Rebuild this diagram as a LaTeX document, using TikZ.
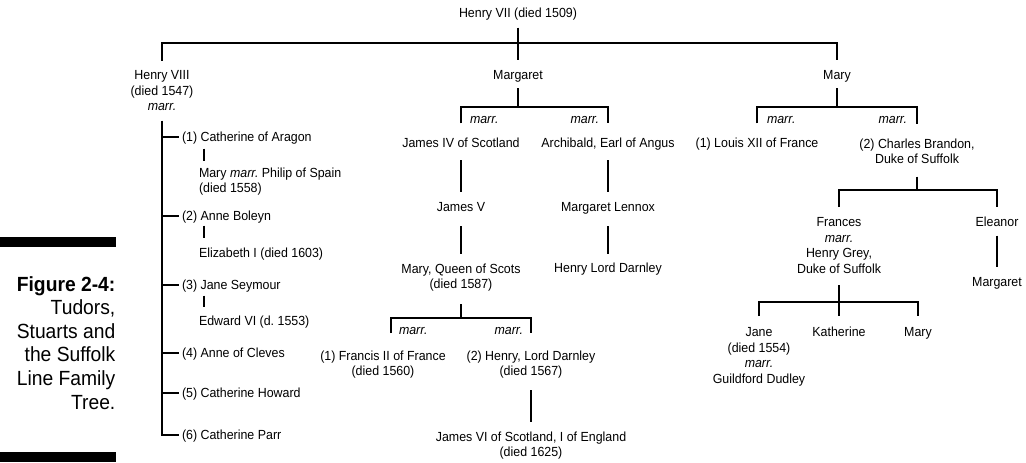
\documentclass[tikz,border=0pt]{standalone}
\usepackage{fontspec}
\setmainfont{Liberation Sans}
\newfontfamily\narrowfont{Liberation Sans}[FakeStretch=0.94]
\usetikzlibrary{calc}
\newcommand\tfs{\narrowfont\fontsize{13.2}{15.5}\selectfont}
\newcommand\capfs{\narrowfont\fontsize{20.5}{23.6}\selectfont}
\begin{document}
\begin{tikzpicture}[x=1pt,y=-1pt,line width=1.3pt,
  t/.style={inner sep=0pt,outer sep=0pt,font=\tfs,text height=9.4pt,text depth=0pt},
  tm/.style={inner sep=0pt,outer sep=0pt,font=\tfs,align=center,anchor=north},
  mr/.style={inner sep=0pt,outer sep=0pt,font=\tfs\itshape,anchor=base},
  capbar/.style={fill=black}]
\useasboundingbox (0,0) rectangle (1026,463);

% caption
\fill[capbar] (0,237) rectangle (116,247);
\fill[capbar] (0,452) rectangle (116,462);
\node[inner sep=0pt,font=\capfs,align=right,anchor=north east] (cap) at (116,275.5)
  {\textbf{Figure 2-4:}\\Tudors,\\Stuarts and\\the Suffolk\\Line Family\\Tree.};

% top generation
\node[t] (h7) at (518,13) {Henry VII (died 1509)};
\node[tm] (h8) at (162,70.5) {Henry VIII\\(died 1547)\\\textit{marr.}};
\node[t] (marg) at (518,75) {Margaret};
\node[t] (mary) at (837,75) {Mary};
\coordinate (b0) at (518,43);
\draw ($(h7.south)+(0,10)$) -- ($(marg.north)+(0,-10)$);
\draw ($(h8.north)+(0,-10)$) |- (b0) -| ($(mary.north)+(0,-10)$);

% Henry VIII wives
\node[t,anchor=west] (c1) at (182,137) {(1) Catherine of Aragon};
\node[t,anchor=west] (c2) at (182,216) {(2) Anne Boleyn};
\node[t,anchor=west] (c3) at (182,285) {(3) Jane Seymour};
\node[t,anchor=west] (c4) at (182,353) {(4) Anne of Cleves};
\node[t,anchor=west] (c5) at (182,393) {(5) Catherine Howard};
\node[t,anchor=west] (c6) at (182,435) {(6) Catherine Parr};
\node[tm,anchor=north west,align=left] (k1) at (199,167.5) {Mary \textit{marr.}\ Philip of Spain\\(died 1558)};
\node[t,anchor=west] (k2) at (199,253) {Elizabeth I (died 1603)};
\node[t,anchor=west] (k3) at (199,321) {Edward VI (d.\ 1553)};
\draw ($(h8.south)+(0,10)$) |- ($(c6.west)+(-3,0)$);
\foreach \w in {c1,c2,c3,c4,c5} \draw (h8.south |- \w.west) -- ($(\w.west)+(-3,0)$);
\draw ($(c1.south -| k1.north west)+(5,7)$) -- ($(k1.north west)+(5,-7)$);
\draw ($(c2.south -| k2.north west)+(5,5)$) -- ($(k2.north west)+(5,-10)$);
\draw ($(c3.south -| k3.north west)+(5,6)$) -- ($(k3.north west)+(5,-9)$);

% Margaret branch
\node[t] (j4) at (461,143) {James IV of Scotland};
\node[t] (arch) at (608,143) {Archibald, Earl of Angus};
\coordinate (b1) at (518,107);
\draw ($(marg.south)+(0,8.5)$) -- (b1);
\draw ($(j4.north)+(0,-15)$) |- (b1) -| ($(arch.north)+(0,-15)$);
\node[mr,anchor=base west] (m1) at (470,123) {marr.};
\node[mr,anchor=base east] (m2) at (599,123) {marr.};
\node[t] (j5) at (461,207) {James V};
\node[tm] (mqs) at (461,263.5) {Mary, Queen of Scots\\(died 1587)};
\draw ($(j4.south)+(0,12.5)$) -- ($(j5.north)+(0,-10.5)$);
\draw ($(j5.south)+(0,14.5)$) -- ($(mqs.north)+(0,-9.5)$);
\node[t] (ml) at (608,207) {Margaret Lennox};
\node[t] (hld) at (608,268) {Henry Lord Darnley};
\draw ($(arch.south)+(0,12.5)$) -- ($(ml.north)+(0,-10.5)$);
\draw ($(ml.south)+(0,14.5)$) -- ($(hld.north)+(0,-9.5)$);
\node[tm] (fr) at (383,350.5) {(1) Francis II of France\\(died 1560)};
\node[tm] (hd) at (531,350.5) {(2) Henry, Lord Darnley\\(died 1567)};
\coordinate (b2) at (461,318);
\coordinate (fl) at (391,333);
\coordinate (fr2) at (531,333);
\draw ($(mqs.south)+(0,13)$) -- (b2);
\draw (fl) |- (b2) -| (fr2);
\node[mr,anchor=base west] (m3) at (399,334) {marr.};
\node[mr,anchor=base east] (m4) at (523,334) {marr.};
\node[tm] (j6) at (531,431.5) {James VI of Scotland, I of England\\(died 1625)};
\draw ($(hd.south)+(0,12)$) -- ($(j6.north)+(0,-9.5)$);

% Mary branch
\node[t] (louis) at (757,143) {(1) Louis XII of France};
\node[tm] (cb) at (917,138.5) {(2) Charles Brandon,\\Duke of Suffolk};
\coordinate (b3) at (837,107);
\draw ($(mary.south)+(0,8.5)$) -- (b3);
\draw ($(louis.north)+(0,-15)$) |- (b3) -| ($(cb.north)+(0,-15)$);
\node[mr,anchor=base west] (m5) at (767,123) {marr.};
\node[mr,anchor=base east] (m6) at (907,123) {marr.};
\node[tm] (fra) at (839,217.5) {Frances\\\textit{marr.}\\Henry Grey,\\Duke of Suffolk};
\node[t] (ele) at (997,222) {Eleanor};
\node[t] (mgt) at (997,282) {Margaret};
\coordinate (b4) at (917,190);
\draw ($(cb.south)+(0,13)$) -- (b4);
\draw ($(fra.north)+(0,-10.5)$) |- (b4) -| ($(ele.north)+(0,-10.5)$);
\draw ($(ele.south)+(0,9)$) -- ($(mgt.north)+(0,-10.5)$);
\node[tm] (jane) at (759,327.5) {Jane\\(died 1554)\\\textit{marr.}\\Guildford Dudley};
\node[t] (kat) at (839,332) {Katherine};
\node[t] (mry) at (918,332) {Mary};
\coordinate (b5) at (839,302);
\draw ($(fra.south)+(0,12)$) -- ($(kat.north)+(0,-11.5)$);
\draw ($(jane.north)+(0,-11.5)$) |- (b5) -| ($(mry.north)+(0,-11.5)$);
\end{tikzpicture}
\end{document}
